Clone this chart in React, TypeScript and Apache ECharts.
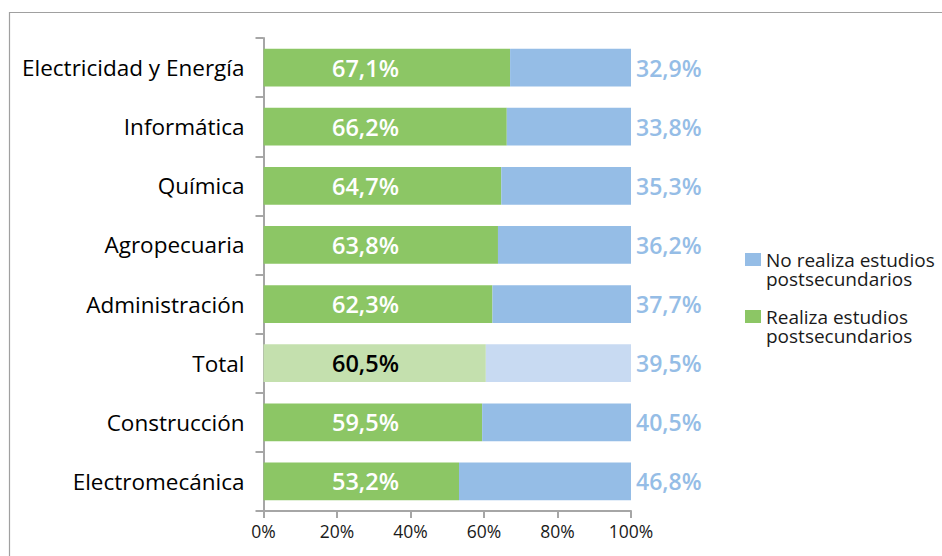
import React, { useEffect, useRef } from "react";
import * as echarts from "echarts";

const categories = [
  "Electricidad y Energía",
  "Informática",
  "Química",
  "Agropecuaria",
  "Administración",
  "Total",
  "Construcción",
  "Electromecánica",
];
const realizaValues = [67.1, 66.2, 64.7, 63.8, 62.3, 60.5, 59.5, 53.2];
const noRealizaValues = [32.9, 33.8, 35.3, 36.2, 37.7, 39.5, 40.5, 46.8];
const xTicks = [0, 20, 40, 60, 80, 100];
const seriesNames = ["No realiza estudios postsecundarios", "Realiza estudios postsecundarios"];
const legendFirstLines: Record<string, string> = {
  "No realiza estudios postsecundarios": "No realiza estudios",
  "Realiza estudios postsecundarios": "Realiza estudios",
};
const legendSecondLine = "postsecundarios";

const GREEN = "#8cc665";
const BLUE = "#95bde6";
const GREEN_LIGHT = "#c4e0ae";
const BLUE_LIGHT = "#c8daf2";
const FONT = "Open Sans";

const fmt = (v: number) => v.toFixed(1).replace(".", ",") + "%";

export default function App() {
  const ref = useRef<HTMLDivElement>(null);
  useEffect(() => {
    document.body.style.margin = "0";
    if (!ref.current) return;
    const chart = echarts.init(ref.current, undefined, { renderer: "svg" });
    const totalIdx = categories.indexOf("Total");
    const greenData = realizaValues.map((v, i) =>
      i === totalIdx
        ? { value: v, itemStyle: { color: GREEN_LIGHT }, label: { color: "#000" } }
        : v
    );
    const blueData = noRealizaValues.map((v, i) =>
      i === totalIdx ? { value: v, itemStyle: { color: BLUE_LIGHT } } : v
    );
    const itemH = 19;
    const firstCenter = 259.5;
    const legendTop = firstCenter - itemH / 2;
    const itemSpacing = 57;
    const lineStep = 19.5;
    const secondLine = (k: number) => ({
      type: "text",
      left: 766,
      top: firstCenter + k * itemSpacing + lineStep - itemH / 2,
      silent: true,
      style: {
        text: legendSecondLine,
        fontFamily: FONT,
        fontSize: 19,
        fill: "#1a1a1a",
        lineHeight: itemH,
      },
    });
    chart.setOption({
      animation: false,
      textStyle: { fontFamily: FONT },
      grid: { left: 263.5, right: 311, top: 38, bottom: 45, containLabel: false },
      graphic: [
        {
          type: "rect",
          shape: { x: 9.5, y: 12.5, width: 1000, height: 1000 },
          style: { fill: "none", stroke: "#a0a0a0", lineWidth: 1.2 },
          silent: true,
          z: -10,
        },
        secondLine(0),
        secondLine(1),
      ],
      legend: {
        orient: "vertical",
        left: 745,
        top: legendTop,
        padding: 0,
        itemGap: itemSpacing - itemH,
        itemWidth: 16,
        itemHeight: 13,
        icon: "rect",
        selectedMode: false,
        data: [seriesNames[0], seriesNames[1]],
        formatter: (name: string) => legendFirstLines[name] || name,
        textStyle: {
          fontFamily: FONT,
          fontSize: 19,
          color: "#1a1a1a",
          lineHeight: itemH,
        },
      },
      xAxis: {
        type: "value",
        min: xTicks[0],
        max: xTicks[xTicks.length - 1],
        interval: 20,
        splitLine: { show: false },
        axisLine: { show: true, lineStyle: { color: "#a6a6a6", width: 2 } },
        axisTick: { show: true, length: 7, lineStyle: { color: "#a6a6a6", width: 2 } },
        axisLabel: {
          formatter: "{value}%",
          fontFamily: FONT,
          fontSize: 17.5,
          color: "#1a1a1a",
          margin: 11,
        },
      },
      yAxis: {
        type: "category",
        data: categories,
        inverse: true,
        axisLine: { show: true, lineStyle: { color: "#a6a6a6", width: 2 } },
        axisTick: { show: true, length: 8, lineStyle: { color: "#a6a6a6", width: 2 } },
        axisLabel: {
          fontFamily: FONT,
          fontSize: 22.5,
          color: "#000",
          margin: 19,
        },
      },
      series: [
        {
          name: seriesNames[1],
          type: "bar",
          stack: "total",
          barCategoryGap: "36%",
          data: greenData,
          itemStyle: { color: GREEN },
          label: {
            show: true,
            position: [102, "50%"],
            align: "center",
            verticalAlign: "middle",
            formatter: (p: any) => fmt(p.value),
            fontFamily: FONT,
            fontSize: 23.5,
            fontWeight: 600,
            color: "#fff",
          },
        },
        {
          name: seriesNames[0],
          type: "bar",
          stack: "total",
          barCategoryGap: "36%",
          data: blueData,
          itemStyle: { color: BLUE },
          label: {
            show: true,
            position: "right",
            distance: 5,
            formatter: (p: any) => fmt(p.value),
            fontFamily: FONT,
            fontSize: 23,
            fontWeight: 600,
            color: BLUE,
          },
        },
      ],
    });
    return () => chart.dispose();
  }, []);
  return <div ref={ref} style={{ width: 942, height: 556 }} />;
}
